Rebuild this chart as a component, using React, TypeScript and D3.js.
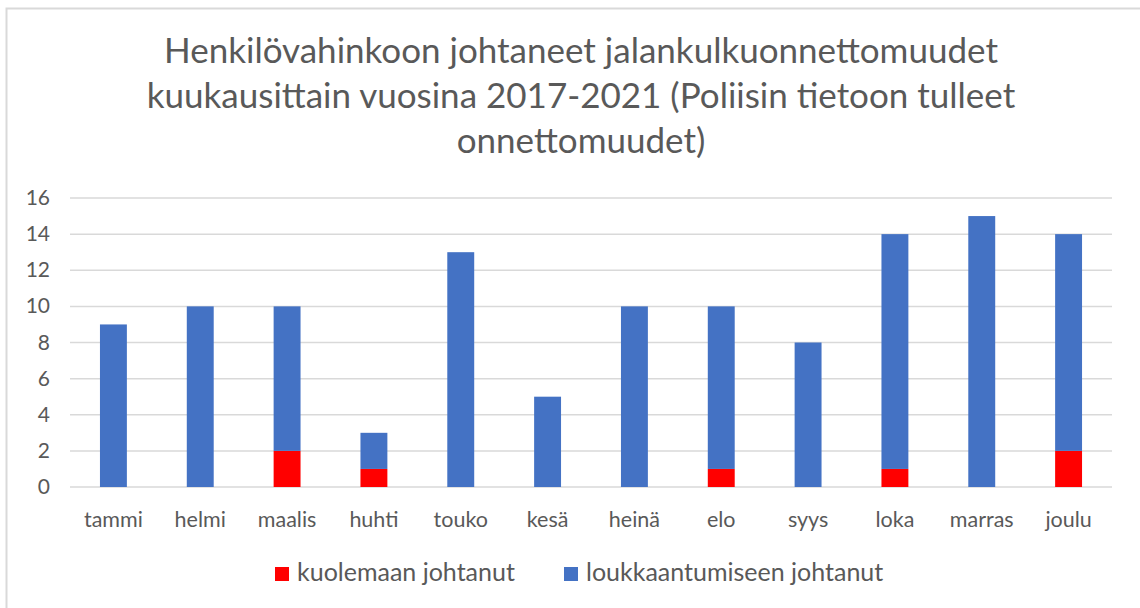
import React from "react";
import * as d3 from "d3";

const months = ["tammi", "helmi", "maalis", "huhti", "touko", "kesä", "heinä", "elo", "syys", "loka", "marras", "joulu"];
const deaths = [0, 0, 2, 1, 0, 0, 0, 1, 0, 1, 0, 2];
const injuries = [9, 10, 8, 2, 13, 5, 10, 9, 8, 13, 15, 12];
const yTicks = [0, 2, 4, 6, 8, 10, 12, 14, 16];
const titleLines = [
  "Henkilövahinkoon johtaneet jalankulkuonnettomuudet",
  "kuukausittain vuosina 2017-2021 (Poliisin tietoon tulleet",
  "onnettomuudet)",
];
const seriesNames = ["kuolemaan johtanut", "loukkaantumiseen johtanut"];
const colors = ["#FF0000", "#4472C4"];

const W = 1140;
const H = 608;
const font = "Lato, 'Open Sans', sans-serif";
const textColor = "#595959";

export default function App() {
  const x = d3.scaleBand().domain(months).range([70, 1112]).paddingInner(0.69).paddingOuter(0.345);
  const y = d3.scaleLinear().domain([0, 16]).range([487, 198]);

  const rows = months.map((m, i) => ({ month: m, deaths: deaths[i], injuries: injuries[i] }));
  const stack = d3.stack<any>().keys(["deaths", "injuries"])(rows);

  return (
    <svg width={W} height={H} style={{ position: "absolute", left: 0, top: 0 }}>
      <rect x={0} y={0} width={W} height={H} fill="#fff" />
      <rect x={6.5} y={8.5} width={W + 20} height={H + 20} fill="none" stroke="#D9D9D9" strokeWidth={2} />
      {titleLines.map((t, i) => (
        <text key={i} x={581} y={63 + i * 45} textAnchor="middle" fontFamily={font} fontSize={35} fill={textColor}>
          {t}
        </text>
      ))}
      {yTicks.map((t) => (
        <g key={t}>
          <line x1={70} x2={1112} y1={y(t)} y2={y(t)} stroke="#D9D9D9" strokeWidth={1.5} />
          <text x={50} y={y(t) + 7} textAnchor="end" fontFamily={font} fontSize={21} fill={textColor}>
            {t}
          </text>
        </g>
      ))}
      {stack.map((s, si) => (
        <g key={si} fill={colors[si]}>
          {s.map((d, i) =>
            d[1] - d[0] > 0 ? (
              <rect key={i} x={x(months[i])} y={y(d[1])} width={x.bandwidth()} height={y(d[0]) - y(d[1])} />
            ) : null
          )}
        </g>
      ))}
      {months.map((m) => (
        <text key={m} x={(x(m) as number) + x.bandwidth() / 2} y={527} textAnchor="middle" fontFamily={font} fontSize={21.5} fill={textColor}>
          {m}
        </text>
      ))}
      {seriesNames.map((n, i) => {
        const lx = i === 0 ? 275 : 564;
        return (
          <g key={n}>
            <rect x={lx} y={567} width={14} height={14} fill={colors[i]} />
            <text x={lx + 22} y={581} fontFamily={font} fontSize={25} fill={textColor}>
              {n}
            </text>
          </g>
        );
      })}
    </svg>
  );
}
